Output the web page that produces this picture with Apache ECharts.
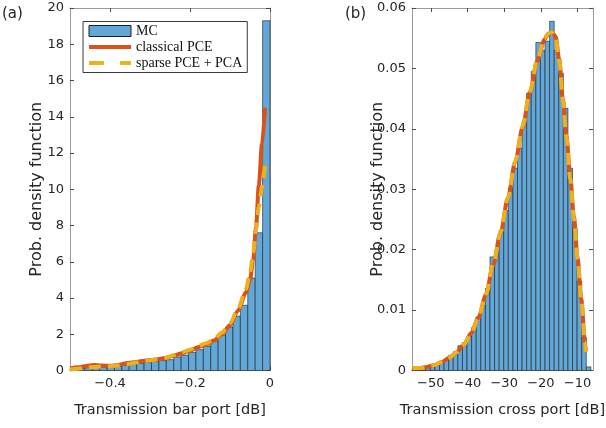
<!DOCTYPE html>
<html>
<head>
<meta charset="utf-8">
<script src="https://cdn.jsdelivr.net/npm/echarts@6/dist/echarts.min.js"></script>
<style>
html, body { margin: 0; padding: 0; background: #fff; }
#chart { width: 606px; height: 428px; }
</style>
</head>
<body>
<div id="chart"></div>
<script>
// ---- (a) transmission at the bar port ----
const barEdges = [-0.5, -0.4815, -0.463, -0.4444, -0.4259, -0.4074, -0.3889, -0.3704, -0.3519,
  -0.3333, -0.3148, -0.2963, -0.2778, -0.2593, -0.2407, -0.2222, -0.2037, -0.1852, -0.1667,
  -0.1481, -0.1296, -0.1111, -0.0926, -0.0741, -0.0556, -0.037, -0.0185, 0];
const barMC = [0.1, 0.12, 0.15, 0.18, 0.2, 0.2, 0.25, 0.3, 0.35, 0.4, 0.45, 0.5, 0.55, 0.6,
  0.75, 0.85, 1.0, 1.15, 1.35, 1.65, 1.95, 2.4, 3.0, 3.6, 5.1, 7.6, 19.3];
const barCurveX = [-0.5, -0.48, -0.46, -0.44, -0.42, -0.40, -0.38, -0.36, -0.34, -0.32, -0.30,
  -0.28, -0.26, -0.24, -0.22, -0.20, -0.18, -0.16, -0.14, -0.12, -0.10, -0.08, -0.06, -0.05,
  -0.042, -0.035, -0.028, -0.02, -0.0125];
const barClassical = [0.12, 0.18, 0.25, 0.3, 0.27, 0.26, 0.3, 0.4, 0.45, 0.52, 0.58, 0.62, 0.7,
  0.82, 0.95, 1.1, 1.28, 1.42, 1.65, 2.0, 2.5, 3.3, 4.3, 5.0, 6.1, 7.9, 10.2, 12.5, 14.5];
const barSparse = [0.06, 0.1, 0.15, 0.2, 0.22, 0.24, 0.28, 0.34, 0.42, 0.5, 0.56, 0.62, 0.7,
  0.85, 1.0, 1.15, 1.35, 1.5, 1.72, 2.1, 2.6, 3.4, 4.5, 5.4, 6.5, 7.8, 9.0, 10.1, 11.4];
const barTicksX = [-0.4, -0.2, 0];

// ---- (b) transmission at the cross port ----
const crossEdges = [-55.125, -53.875, -52.625, -51.375, -50.125, -48.875, -47.625, -46.375,
  -45.125, -43.875, -42.625, -41.375, -40.125, -38.875, -37.625, -36.375, -35.125, -33.875,
  -32.625, -31.375, -30.125, -28.875, -27.625, -26.375, -25.125, -23.875, -22.625, -21.375,
  -20.125, -18.875, -17.625, -16.375, -15.125, -13.875, -12.625, -11.375, -10.125, -8.875,
  -7.625, -6.375];
const crossMC = [0.0002, 0.0003, 0.0004, 0.0006, 0.0008, 0.0011, 0.0015, 0.0019, 0.0025,
  0.0031, 0.0041, 0.0046, 0.0057, 0.0071, 0.0088, 0.0108, 0.0136, 0.0188, 0.0197, 0.0232,
  0.0265, 0.0302, 0.0335, 0.0368, 0.0412, 0.0459, 0.0495, 0.0543, 0.053, 0.0545, 0.0578,
  0.053, 0.0492, 0.0434, 0.0335, 0.0235, 0.0148, 0.0055, 0.0006];
const crossCurveX = [-55, -53, -51, -49, -47, -45, -43, -41, -39, -37, -35, -33, -31, -29, -27,
  -25, -23, -21, -19, -18, -17, -16, -15, -14, -13, -12, -11, -10, -9, -8, -7.8];
const crossClassical = [0.0003, 0.0004, 0.0006, 0.0009, 0.0014, 0.0021, 0.003, 0.0043, 0.0062,
  0.0088, 0.0125, 0.0175, 0.0228, 0.0285, 0.0345, 0.0402, 0.046, 0.0512, 0.0548, 0.0557,
  0.056, 0.0553, 0.0515, 0.0448, 0.0385, 0.032, 0.0254, 0.0186, 0.0118, 0.0048, 0.0032];
const crossSparse = [0.0004, 0.0004, 0.0006, 0.0009, 0.0014, 0.0021, 0.003, 0.0043, 0.0061,
  0.0088, 0.0126, 0.0176, 0.0229, 0.0286, 0.0346, 0.0404, 0.0462, 0.0514, 0.055, 0.0558,
  0.056, 0.0552, 0.0513, 0.0447, 0.0383, 0.0318, 0.0252, 0.0185, 0.0117, 0.0047, 0.0031];
const crossTicksX = [-50, -40, -30, -20, -10];

const MC_FILL = '#62a7d8';
const RED = '#d95319';
const YELLOW = '#edb120';
const TXT = '#262626';
const SANS = 'DejaVu Sans';

function bins(edges, values) {
  return values.map((v, i) => [edges[i], edges[i + 1], v]);
}
function pairs(xs, ys) {
  return xs.map((x, i) => [x, ys[i]]);
}
function minus(v) {
  return String(v).replace('-', '\u2212');
}
function renderBin(params, api) {
  const top = api.coord([api.value(0), api.value(2)]);
  const base = api.coord([api.value(1), 0]);
  return {
    type: 'rect',
    shape: { x: top[0], y: top[1], width: base[0] - top[0], height: base[1] - top[1] },
    style: { fill: MC_FILL, stroke: '#1e1e1e', lineWidth: 0.6 }
  };
}

const boxLine = { show: true, onZero: false, lineStyle: { color: '#9a9a9a', width: 1 } };
const tickIn = { show: true, inside: true, length: 4, lineStyle: { color: '#4a4a4a', width: 1 } };
const tickLabel = { color: TXT, fontFamily: SANS, fontSize: 13 };

function xPair(grid, min, max, ticks, name) {
  return [{
    gridIndex: grid, type: 'value', position: 'bottom', min: min, max: max,
    axisLine: boxLine, splitLine: { show: false },
    axisTick: Object.assign({ customValues: ticks }, tickIn),
    axisLabel: Object.assign({ customValues: ticks, margin: 7, formatter: minus }, tickLabel),
    name: name, nameLocation: 'middle', nameGap: 32, nameMoveOverlap: false,
    nameTextStyle: { color: TXT, fontFamily: SANS, fontSize: 14.5 }
  }, {
    gridIndex: grid, type: 'value', position: 'top', min: min, max: max,
    axisLine: boxLine, splitLine: { show: false },
    axisTick: Object.assign({ customValues: ticks }, tickIn),
    axisLabel: { show: false }
  }];
}
function yPair(grid, max, step, nameGap) {
  return [{
    gridIndex: grid, type: 'value', position: 'left', min: 0, max: max, interval: step,
    axisLine: boxLine, splitLine: { show: false }, axisTick: tickIn,
    axisLabel: Object.assign({ margin: 6 }, tickLabel),
    name: 'Prob. density function', nameLocation: 'middle', nameGap: nameGap,
    nameMoveOverlap: false,
    nameTextStyle: { color: TXT, fontFamily: SANS, fontSize: 16 }
  }, {
    gridIndex: grid, type: 'value', position: 'right', min: 0, max: max, interval: step,
    axisLine: boxLine, splitLine: { show: false }, axisTick: tickIn,
    axisLabel: { show: false }
  }];
}

function lineSeries(name, xi, yi, data, color, dashed) {
  return {
    name: name, type: 'line', xAxisIndex: xi, yAxisIndex: yi, data: data,
    symbol: 'none', smooth: 0.3, smoothMonotone: 'x', z: dashed ? 4 : 3,
    lineStyle: { color: color, width: 4, type: dashed ? [12, 7] : 'solid', cap: 'butt' },
    itemStyle: { color: color }
  };
}

const hiddenMarker = { opacity: 0, borderWidth: 0 };
const panelTag = { color: TXT, fontFamily: SANS, fontSize: 15, fontWeight: 'normal' };

const chart = echarts.init(document.getElementById('chart'), null, { renderer: 'canvas' });
chart.setOption({
  animation: false,
  backgroundColor: '#fff',
  title: [
    { text: '(a)', left: -3, top: 2, textStyle: panelTag },
    { text: '(b)', left: 340, top: 2, textStyle: panelTag }
  ],
  legend: {
    left: 83, top: 21.5, orient: 'vertical',
    backgroundColor: '#fff', borderColor: '#3a3a3a', borderWidth: 1,
    padding: [2.5, 5, 2.5, 4], itemGap: 2, itemWidth: 42, itemHeight: 11,
    textStyle: { color: '#111', fontFamily: 'Liberation Serif', fontSize: 14, lineHeight: 14 },
    data: [
      { name: 'MC', icon: 'rect', itemStyle: { color: MC_FILL, borderColor: '#1e1e1e', borderWidth: 1 } },
      { name: 'classical PCE', itemStyle: hiddenMarker, lineStyle: { width: 4, color: RED, type: 'solid' } },
      { name: 'sparse PCE + PCA', itemStyle: hiddenMarker, lineStyle: { width: 4, color: YELLOW, type: [15, 16] } }
    ]
  },
  grid: [
    { left: 70, right: 336, top: 8, bottom: 57.5, outerBoundsMode: 'none', containLabel: false },
    { left: 412, right: 13, top: 8, bottom: 57.5, outerBoundsMode: 'none', containLabel: false }
  ],
  xAxis: xPair(0, -0.5, 0, barTicksX, 'Transmission bar port [dB]')
    .concat(xPair(1, -55.125, -5.8, crossTicksX, 'Transmission cross port [dB]')),
  yAxis: yPair(0, 20, 2, 25).concat(yPair(1, 0.06, 0.01, 26)),
  series: [
    {
      name: 'MC', type: 'custom', xAxisIndex: 0, yAxisIndex: 0,
      renderItem: renderBin, encode: { x: [0, 1], y: 2 },
      data: bins(barEdges, barMC), itemStyle: { color: MC_FILL }, z: 2
    },
    lineSeries('classical PCE', 0, 0, pairs(barCurveX, barClassical), RED, false),
    lineSeries('sparse PCE + PCA', 0, 0, pairs(barCurveX, barSparse), YELLOW, true),
    {
      name: 'MC', type: 'custom', xAxisIndex: 2, yAxisIndex: 2,
      renderItem: renderBin, encode: { x: [0, 1], y: 2 },
      data: bins(crossEdges, crossMC), itemStyle: { color: MC_FILL }, z: 2
    },
    lineSeries('classical PCE', 2, 2, pairs(crossCurveX, crossClassical), RED, false),
    lineSeries('sparse PCE + PCA', 2, 2, pairs(crossCurveX, crossSparse), YELLOW, true)
  ]
});
</script>
</body>
</html>
